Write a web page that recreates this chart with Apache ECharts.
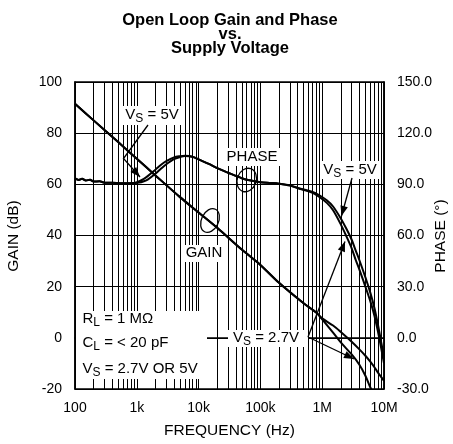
<!DOCTYPE html>
<html><head><meta charset="utf-8">
<script src="https://cdn.jsdelivr.net/npm/echarts@6/dist/echarts.min.js"></script>
<style>html,body{margin:0;padding:0;background:#fff}#c{width:453px;height:444px}</style>
</head><body><div id="c"></div>
<script>
// ---------- data ----------
const xTickValues = [100, 1000, 10000, 100000, 1000000, 10000000];
const xTickLabels = ['100', '1k', '10k', '100k', '1M', '10M'];
const minorGridFreqs = [200,300,400,500,600,700,800,900,
  2000,3000,4000,5000,6000,7000,8000,9000,
  20000,30000,40000,50000,60000,70000,80000,90000,
  200000,300000,400000,500000,600000,700000,800000,900000,
  2000000,3000000,4000000,5000000,6000000,7000000,8000000,9000000];

const freqGain = [100,200,500,1000,2000,5000,10000,20000,50000,100000,200000,500000,800000,
  1000000,1500000,2000000,3000000,4000000,5000000,6000000,7000000,8000000,10000000];
const gain5V  = [91.5,85,76.5,70,63.5,55,49,43,34.5,28.5,21.5,13.5,9.9,
  7.6,4.8,2.3,-1.5,-4.5,-7,-9.3,-11.5,-13.6,-16.8];
const gain27V = [91.5,85,76.5,70,63.5,55,49,43,34.5,28.5,21.5,13.5,9.9,
  7.2,2.0,-1.8,-6.5,-10.5,-14.8,-19.3,-22.5,null,null];

const freqPhase = [100,115,130,150,175,200,250,300,400,600,
  900,1100,1300,1500,2000,2500,3000,4000,5000,6000,
  7000,8500,10000,15000,20000,30000,50000,70000,100000,150000,
  200000,300000,430000,700000,900000,1200000,1500000,2000000,2500000,3000000,
  3500000,4000000,5000000,6000000,7000000,8000000,9000000,10000000];
const phase5V = [93.5,92.6,93.3,92.2,92.7,91.6,91.8,91.0,90.9,90.6,
  90.8,91.8,93.2,94.8,98.6,101.6,103.6,105.8,106.5,106.8,
  106.6,105.8,104.6,101.8,99.5,96.8,93.6,92.2,91.2,90.8,
  90.4,89.4,87.6,85.6,83.6,80.5,77.0,70.0,63.5,57.5,
  51.0,45.5,35.5,26.5,17.5,7.5,-2.5,-11.0];
const phase27V = [93.5,92.6,93.3,92.2,92.7,91.6,91.8,91.0,90.9,90.6,
  90.8,91.0,91.8,92.8,96.2,99.4,101.8,104.8,106.0,106.6,
  106.5,105.8,104.6,101.8,99.5,96.8,93.6,92.2,91.2,90.8,
  90.4,89.3,87.4,85.0,82.6,79.0,74.8,66.5,59.0,52.5,
  45.5,40.0,30.0,21.5,13.0,3.5,-6.0,-15.0];

// ---------- chart ----------
const FONT = '"Liberation Sans", Arial, Helvetica, sans-serif';
const chart = echarts.init(document.getElementById('c'), null, {renderer: 'canvas', width: 453, height: 444});
const L = 75, T = 82, W = 309, H = 308;

function pairs(xs, ys) { return xs.map((x, i) => [x, ys[i]]); }
function xLabel(v) {
  const k = Math.round(Math.log10(v));
  const i = xTickValues.findIndex(t => Math.round(Math.log10(t)) === k);
  return i >= 0 ? xTickLabels[i] : '';
}
const curveStyle = {color: '#000', width: 2};
function curve(name, data, yi) {
  return {name, type: 'line', data, yAxisIndex: yi, symbol: 'none', smooth: 0.3, z: 3,
    lineStyle: curveStyle, itemStyle: {color: '#000'}, silent: true, clip: true};
}

const RICH = {
  m: {fontSize: 15, fontFamily: FONT, fill: '#000', lineHeight: 20},
  s: {fontSize: 12, fontFamily: FONT, fill: '#000', verticalAlign: 'bottom'}
};
function label(text, x, y, align) {
  return {type: 'text', x, y, z: 101, silent: true,
    style: {text, rich: RICH, align: align || 'center', verticalAlign: 'middle', fill: '#000', fontSize: 15, fontFamily: FONT}};
}
function box(x, y, w, h) {
  return {type: 'rect', shape: {x, y, width: w, height: h}, z: 99, silent: true, style: {fill: '#fff'}};
}
function arrow(points) {
  const els = [{type: 'polyline', z: 100, silent: true, shape: {points},
    style: {stroke: '#000', lineWidth: 1.3, fill: null}}];
  const [x1, y1] = points[points.length - 2], [x2, y2] = points[points.length - 1];
  const a = Math.atan2(y2 - y1, x2 - x1), len = 10, w = 3.8;
  const bx = x2 - len * Math.cos(a), by = y2 - len * Math.sin(a);
  els.push({type: 'polygon', z: 100, silent: true,
    shape: {points: [[x2, y2], [bx + w * Math.sin(a), by - w * Math.cos(a)], [bx - w * Math.sin(a), by + w * Math.cos(a)]]},
    style: {fill: '#000'}});
  return els;
}
function ellipse(cx, cy, rx, ry, rot) {
  return {type: 'ellipse', z: 100, silent: true, x: cx, y: cy, rotation: rot,
    shape: {cx: 0, cy: 0, rx, ry}, style: {stroke: '#000', lineWidth: 1.3, fill: null}};
}
function plain(text, x, y, opts, rotation) {
  return {type: 'text', x, y, z: 101, silent: true, rotation: rotation || 0,
    style: Object.assign({text, fill: '#000', fontSize: 15, fontFamily: FONT, align: 'center', verticalAlign: 'middle'}, opts || {})};
}

const graphics = [
  plain('Open Loop Gain and Phase', 230, 20, {fontSize: 16.5, fontWeight: 'bold'}),
  plain('vs.', 230, 34, {fontSize: 16.5, fontWeight: 'bold'}),
  plain('Supply Voltage', 230, 48, {fontSize: 16.5, fontWeight: 'bold'}),
  plain('GAIN (dB)', 14, 236, {fontSize: 15.5}, Math.PI / 2),
  plain('PHASE (°)', 441, 236, {fontSize: 15.5}, Math.PI / 2),
  // top-left VS = 5V
  box(123, 106, 58, 19),
  label('{m|V}{s|S}{m| = 5V}', 152, 115),
  ...arrow([[148, 125], [123.5, 158.5], [140, 177]]),
  // PHASE
  box(224, 148, 56, 18),
  label('{m|PHASE}', 252, 157),
  ellipse(246.7, 180, 9.5, 12, -0.35),
  // GAIN
  box(184, 245, 41, 17),
  label('{m|GAIN}', 204, 253),
  ellipse(210, 220.5, 8.5, 12.5, -0.45),
  // top-right VS = 5V
  box(320, 161, 60, 18),
  label('{m|V}{s|S}{m| = 5V}', 350, 170),
  ...arrow([[352, 178], [341.5, 216]]),
  // VS = 2.7V
  box(228, 330, 80, 17),
  label('{m|V}{s|S}{m| = 2.7V}', 266, 338),
  ...arrow([[308, 337], [345, 241.5]]),
  ...arrow([[308, 337], [354, 359]]),
  // conditions box
  box(76, 311, 131, 68),
  label('{m|R}{s|L}{m| = 1 MΩ}', 82.5, 318.5, 'left'),
  label('{m|C}{s|L}{m| = < 20 pF}', 82.5, 343, 'left'),
  label('{m|V}{s|S}{m| = 2.7V OR 5V}', 82.5, 368.5, 'left')
];

const option = {
  animation: false,
  backgroundColor: '#fff',
  grid: {left: L, top: T, width: W, height: H, show: true, borderColor: '#000', borderWidth: 1.5},
  xAxis: {
    type: 'log', logBase: 10, min: 100, max: 10000000, splitNumber: 5,
    axisLine: {show: true, lineStyle: {color: '#000', width: 1.5}},
    axisTick: {show: false},
    axisLabel: {fontSize: 14, color: '#000', fontFamily: FONT, margin: 12, formatter: xLabel},
    splitLine: {show: true, lineStyle: {color: '#000', width: 1}},
    minorTick: {show: false}, minorSplitLine: {show: false},
    name: 'FREQUENCY (Hz)', nameLocation: 'middle', nameGap: 34,
    nameTextStyle: {fontSize: 15.5, color: '#000', fontFamily: FONT}
  },
  yAxis: [
    {type: 'value', min: -20, max: 100, interval: 20, position: 'left',
      axisLine: {show: true, lineStyle: {color: '#000', width: 1.5}}, axisTick: {show: false},
      axisLabel: {fontSize: 14, color: '#000', fontFamily: FONT, margin: 13},
      splitLine: {show: true, lineStyle: {color: '#000', width: 1}}},
    {type: 'value', min: -30, max: 150, interval: 30, position: 'right',
      axisLine: {show: true, lineStyle: {color: '#000', width: 1.5}}, axisTick: {show: false},
      axisLabel: {fontSize: 14, color: '#000', fontFamily: FONT, margin: 13, formatter: v => v.toFixed(1)},
      splitLine: {show: false}}
  ],
  series: [
    {name: 'grid', type: 'line', data: [], z: 1, silent: true,
      markLine: {silent: true, symbol: ['none', 'none'], label: {show: false}, animation: false,
        lineStyle: {color: '#000', width: 1, type: 'solid'},
        data: minorGridFreqs.map(f => ({xAxis: f}))}},
    curve('Gain VS=5V', pairs(freqGain, gain5V), 0),
    curve('Gain VS=2.7V', pairs(freqGain, gain27V), 0),
    curve('Phase VS=5V', pairs(freqPhase, phase5V), 1),
    curve('Phase VS=2.7V', pairs(freqPhase, phase27V), 1)
  ],
  graphic: graphics
};
chart.setOption(option);
</script></body></html>
